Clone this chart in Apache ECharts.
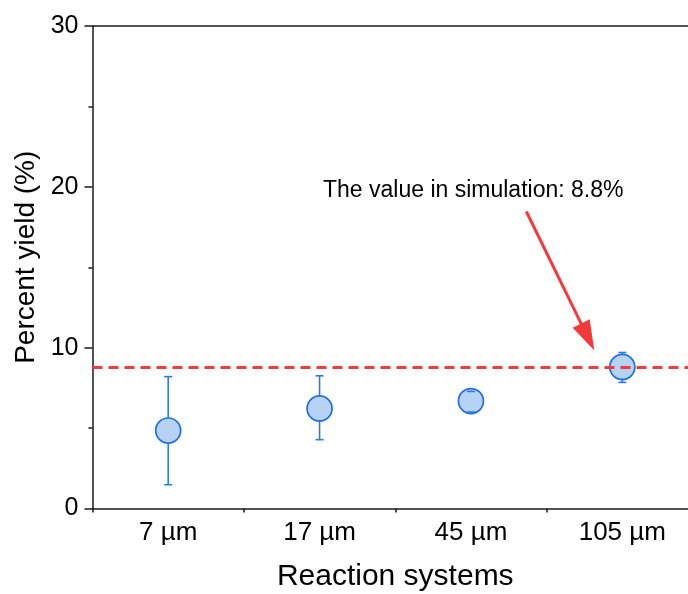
<!DOCTYPE html>
<html><head><meta charset="utf-8">
<script src="https://cdn.jsdelivr.net/npm/echarts@6/dist/echarts.min.js"></script>
<style>html,body{margin:0;padding:0;background:#fff}#c{width:688px;height:594px}</style>
</head><body><div id="c"></div>
<script>
const categories = ['7 µm', '17 µm', '45 µm', '105 µm'];
const yieldValues = [4.85, 6.22, 6.68, 8.8];
const errLow = [1.48, 4.28, 6.0, 7.84];
const errHigh = [8.2, 8.25, 7.28, 9.7];
const simValue = 8.8;
const annotationText = 'The value in simulation: 8.8%';
const yMin = 0, yMax = 30, yInterval = 10;

const FONT = "'Liberation Sans', Arial, sans-serif";
const AX = '#1a1a1a';
const RED = '#ef3b3b';
const BLUE = '#1f6fdc';
const ERR = '#2a7be0';

const chart = echarts.init(document.getElementById('c'), null, {renderer: 'canvas'});

function errItem(withLine) {
  return function (params, api) {
    const x = api.value(0);
    const lo = api.coord([x, api.value(1)]);
    const hi = api.coord([x, api.value(2)]);
    const cap = 4;
    const st = {stroke: ERR, lineWidth: 1.6};
    const ch = [];
    if (withLine) {
      ch.push({type: 'line', shape: {x1: lo[0], y1: lo[1], x2: hi[0], y2: hi[1]}, style: st});
    } else {
      ch.push({type: 'line', shape: {x1: lo[0] - cap, y1: lo[1], x2: lo[0] + cap, y2: lo[1]}, style: st});
      ch.push({type: 'line', shape: {x1: hi[0] - cap, y1: hi[1], x2: hi[0] + cap, y2: hi[1]}, style: st});
    }
    return {type: 'group', children: ch};
  };
}
const errData = categories.map((c, i) => [i, errLow[i], errHigh[i]]);

const option = {
  animation: false,
  backgroundColor: '#fff',
  grid: {left: 92.5, top: 26, right: -10, bottom: 85.5, containLabel: false, outerBoundsMode: 'none', show: false},
  xAxis: [{
    type: 'category', data: categories, position: 'bottom', boundaryGap: true,
    axisLine: {lineStyle: {color: AX, width: 1.5}},
    axisTick: {alignWithLabel: true, length: 7, lineStyle: {color: AX, width: 1.5}},
    axisLabel: {color: '#000', fontFamily: FONT, fontSize: 26, margin: 11},
    splitLine: {show: false},
    name: 'Reaction systems', nameLocation: 'middle', nameGap: 53,
    nameTextStyle: {color: '#000', fontFamily: FONT, fontSize: 30}
  }, {
    type: 'category', data: categories, position: 'bottom', boundaryGap: true,
    axisLine: {show: false},
    axisTick: {show: true, length: 4, lineStyle: {color: AX, width: 1.5}},
    axisLabel: {show: false}, splitLine: {show: false}
  }, {
    type: 'category', data: categories, position: 'top', boundaryGap: true,
    axisLine: {show: true, lineStyle: {color: AX, width: 1.5}},
    axisTick: {show: false}, axisLabel: {show: false}, splitLine: {show: false}
  }],
  yAxis: {
    type: 'value', min: yMin, max: yMax, interval: yInterval,
    axisLine: {show: true, lineStyle: {color: AX, width: 1.5}},
    axisTick: {show: true, length: 8, lineStyle: {color: AX, width: 1.5}},
    minorTick: {show: true, splitNumber: 2, length: 4, lineStyle: {color: AX, width: 1.5}},
    splitLine: {show: false}, minorSplitLine: {show: false},
    axisLabel: {color: '#000', fontFamily: FONT, fontSize: 25, margin: 14},
    name: 'Percent yield (%)', nameLocation: 'middle', nameGap: 52,
    nameTextStyle: {color: '#000', fontFamily: FONT, fontSize: 28, padding: [0, 0, 0, 20]}
  },
  series: [{
    type: 'custom', xAxisIndex: 0, z: 2,
    data: errData, encode: {x: 0, y: [1, 2]},
    renderItem: errItem(true)
  }, {
    type: 'scatter', xAxisIndex: 0, z: 3,
    data: yieldValues,
    symbol: 'circle', symbolSize: 25,
    itemStyle: {color: '#b7d2f4', borderColor: BLUE, borderWidth: 1.7, opacity: 1},
    markLine: {
      silent: true, symbol: ['none', 'none'], z: 4,
      label: {show: false},
      lineStyle: {color: RED, width: 3, type: [10, 6]},
      data: [{yAxis: simValue}]
    }
  }, {
    type: 'custom', xAxisIndex: 0, z: 5,
    data: errData, encode: {x: 0, y: [1, 2]},
    renderItem: errItem(false)
  }]
};
chart.setOption(option);

const p = chart.convertToPixel({seriesIndex: 1}, [3, simValue]);
const tip = [p[0] - 28, p[1] - 16.5];
const tail = [tip[0] - 68, tip[1] - 139];
const dx = tip[0] - tail[0], dy = tip[1] - tail[1];
const L = Math.sqrt(dx * dx + dy * dy);
const ux = dx / L, uy = dy / L;
const headLen = 30, headHalf = 9.5;
const base = [tip[0] - headLen * ux, tip[1] - headLen * uy];
const c1 = [base[0] - headHalf * uy, base[1] + headHalf * ux];
const c2 = [base[0] + headHalf * uy, base[1] - headHalf * ux];

chart.setOption({
  graphic: [
    {type: 'line', shape: {x1: tail[0], y1: tail[1], x2: base[0] + 2 * ux, y2: base[1] + 2 * uy}, style: {stroke: RED, lineWidth: 3}, z: 10},
    {type: 'polygon', shape: {points: [tip, c1, c2]}, style: {fill: RED}, z: 10},
    {type: 'text', x: 323, y: 191, style: {text: annotationText, fill: '#000', font: "23px 'Liberation Sans', Arial, sans-serif", textVerticalAlign: 'middle', textAlign: 'left'}, z: 10}
  ]
});
</script>
</body></html>
